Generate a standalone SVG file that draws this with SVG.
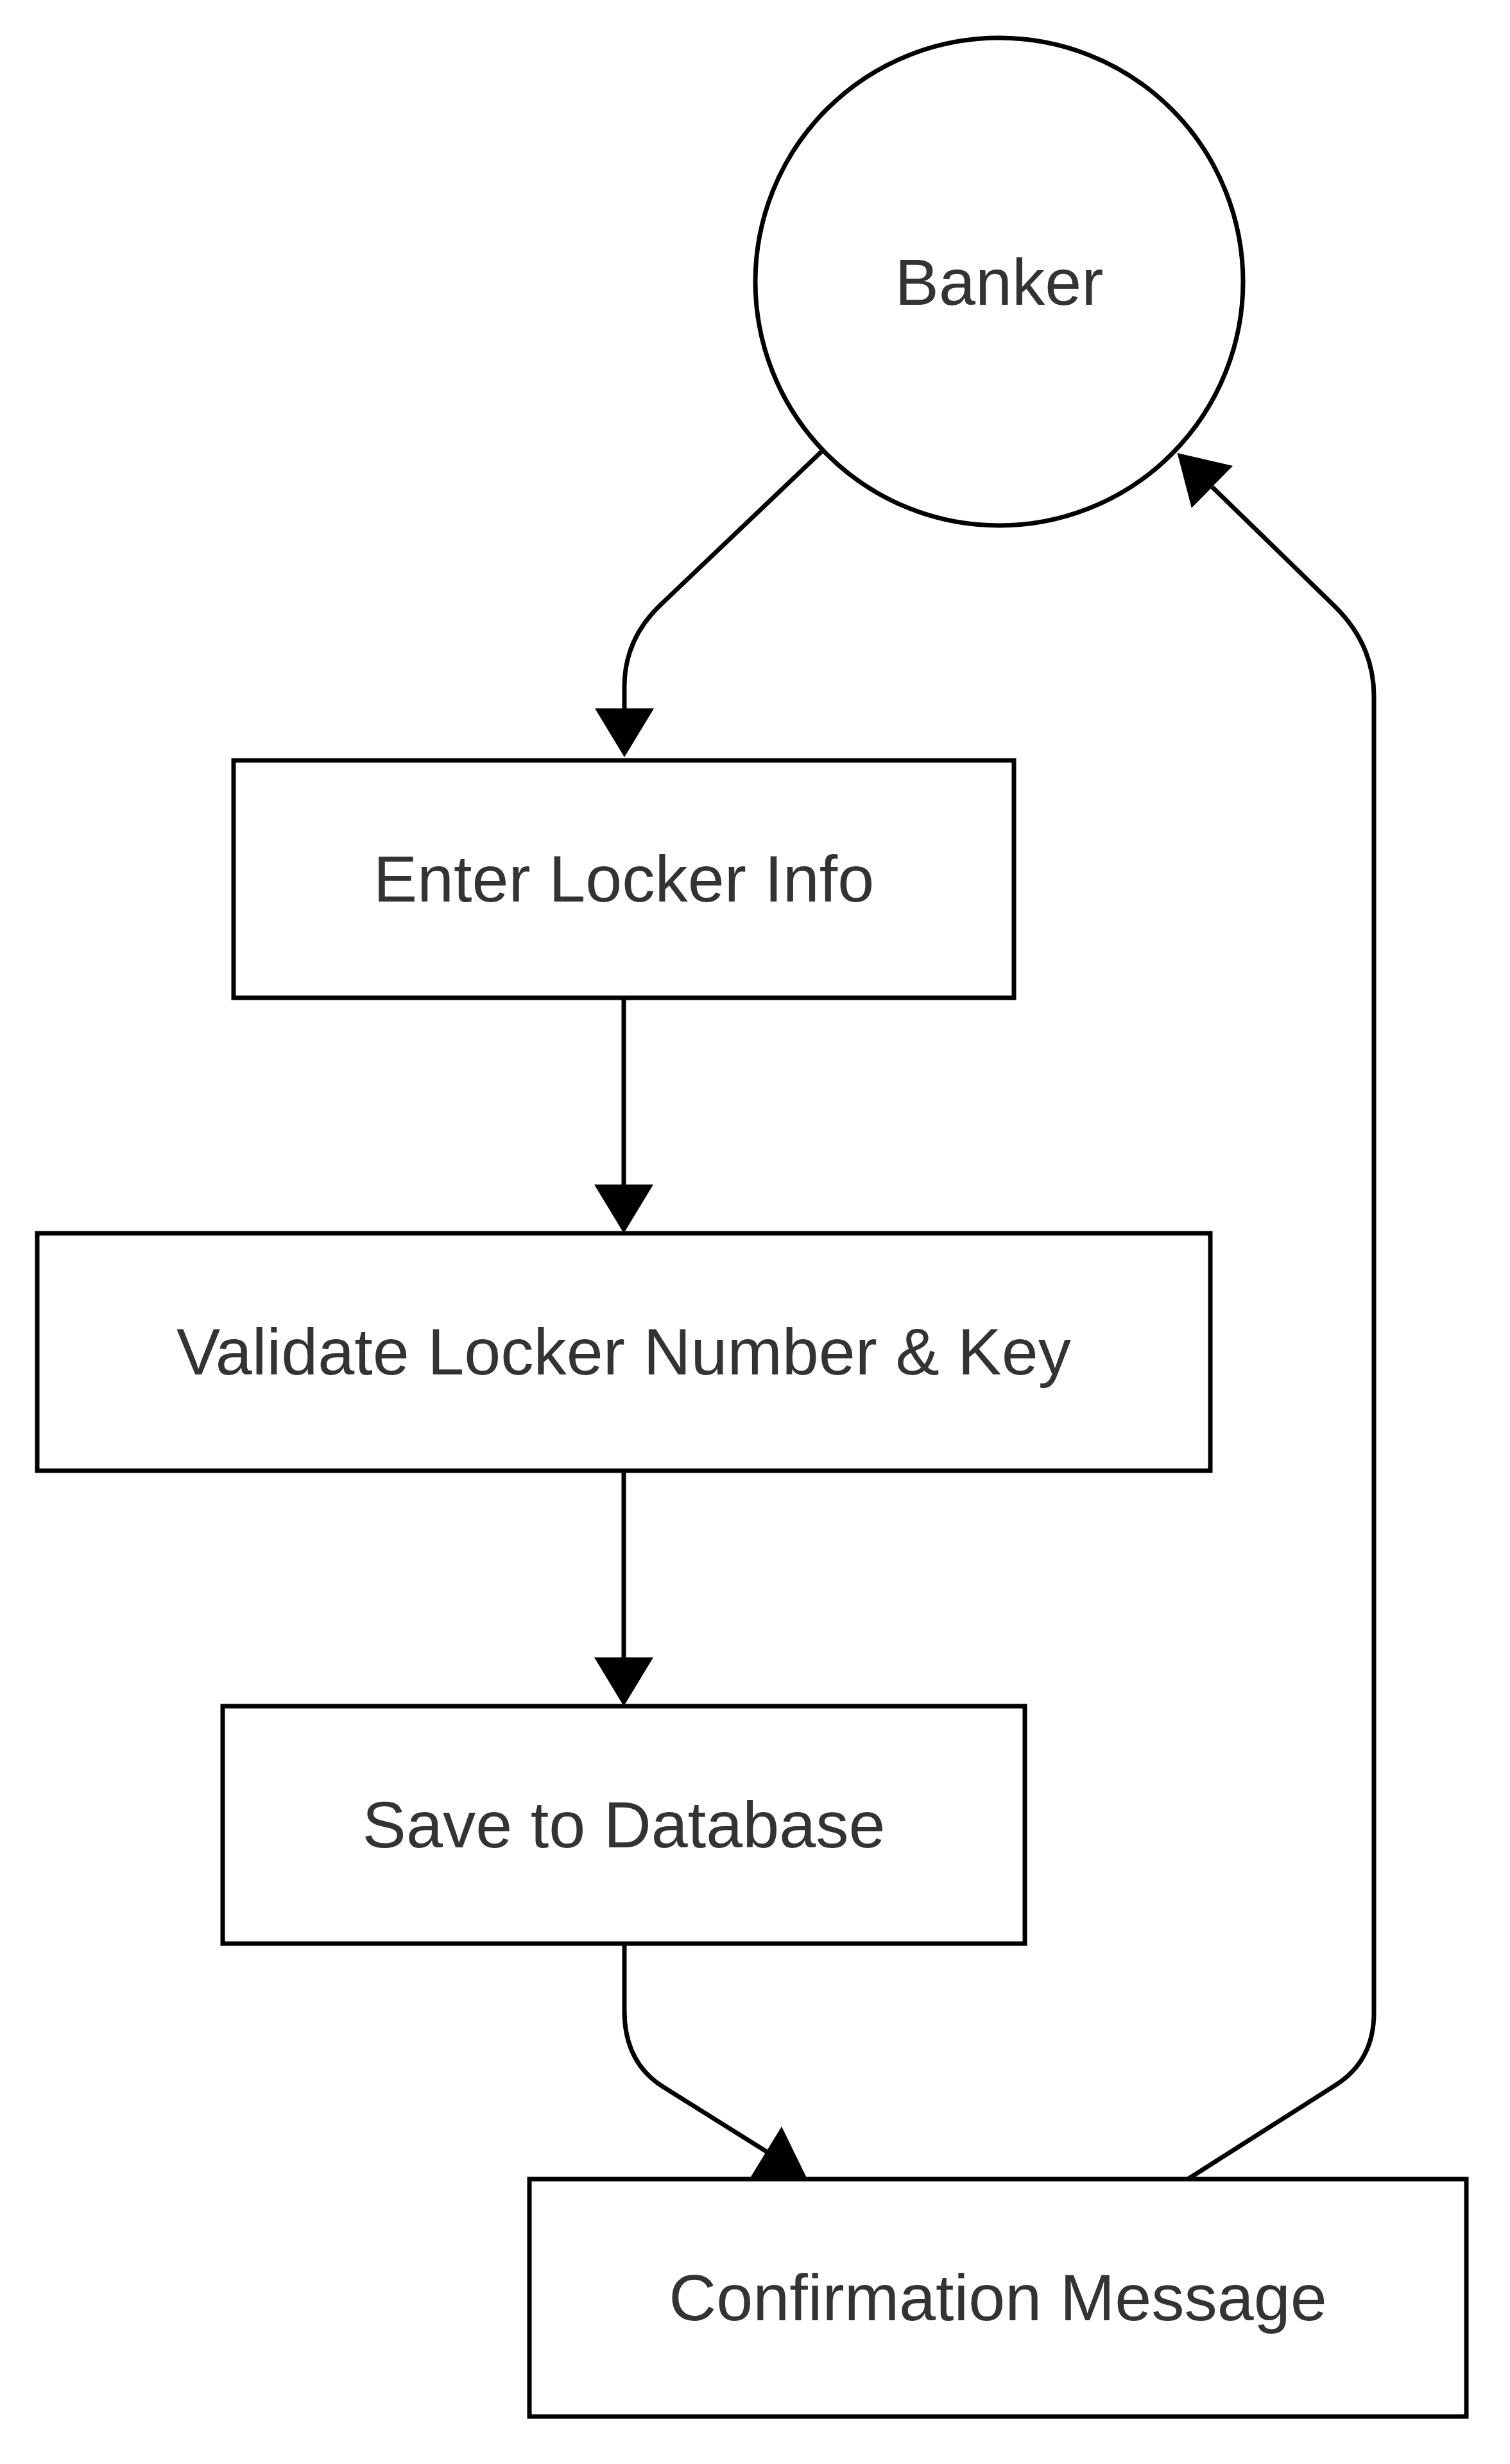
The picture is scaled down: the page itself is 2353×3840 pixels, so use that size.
<svg xmlns="http://www.w3.org/2000/svg" width="2353" height="3840" viewBox="0 0 2353 3840">
<style>
.node rect, .node circle { fill: #ffffff; stroke: #000000; stroke-width: 7; }
.label { font-family: "Liberation Sans", Arial, sans-serif; font-size: 102.5px; fill: #333333; text-anchor: middle; }
.edge { fill: none; stroke: #000000; stroke-width: 7; }
.head { fill: #000000; stroke: none; }
</style>
<defs>
<marker id="arrow" markerUnits="userSpaceOnUse" markerWidth="80" markerHeight="96" viewBox="0 0 80 96" refX="0" refY="46" orient="auto">
<path d="M0,0 L76,46 L0,92 z" fill="#000000"/>
</marker>
</defs>
<rect x="0" y="0" width="2353" height="3840" fill="#ffffff"/>
<g id="connectors">
<path class="edge" d="M1282,702 L1030,942 Q973,996 973,1070 L973,1104" marker-end="url(#arrow)"/>
<path class="edge" d="M972,1555 L972,1846" marker-end="url(#arrow)"/>
<path class="edge" d="M972,2292 L972,2583" marker-end="url(#arrow)"/>
<path class="edge" d="M973,3029 L973,3134 Q973,3214 1033,3252 L1215,3366"/>
<polygon class="head" points="1218,3314 1257,3394 1169,3394"/>
<path class="edge" d="M1851,3396 L2082,3249 Q2141,3211 2141,3137 L2141,1085 Q2141,1005 2080,945 L1889,759" marker-end="url(#arrow)"/>
</g>
<g id="node-banker" class="node">
<circle cx="1557" cy="439" r="380"/>
<text class="label" x="1557" y="475">Banker</text>
</g>
<g id="node-enter" class="node">
<rect x="364" y="1185" width="1216" height="370"/>
<text class="label" x="972" y="1405">Enter Locker Info</text>
</g>
<g id="node-validate" class="node">
<rect x="58" y="1922" width="1828" height="370"/>
<text class="label" x="972" y="2142">Validate Locker Number &amp; Key</text>
</g>
<g id="node-save" class="node">
<rect x="347" y="2659" width="1250" height="370"/>
<text class="label" x="972" y="2879">Save to Database</text>
</g>
<g id="node-confirm" class="node">
<rect x="825" y="3396" width="1460" height="370"/>
<text class="label" x="1555" y="3616">Confirmation Message</text>
</g>
</svg>
